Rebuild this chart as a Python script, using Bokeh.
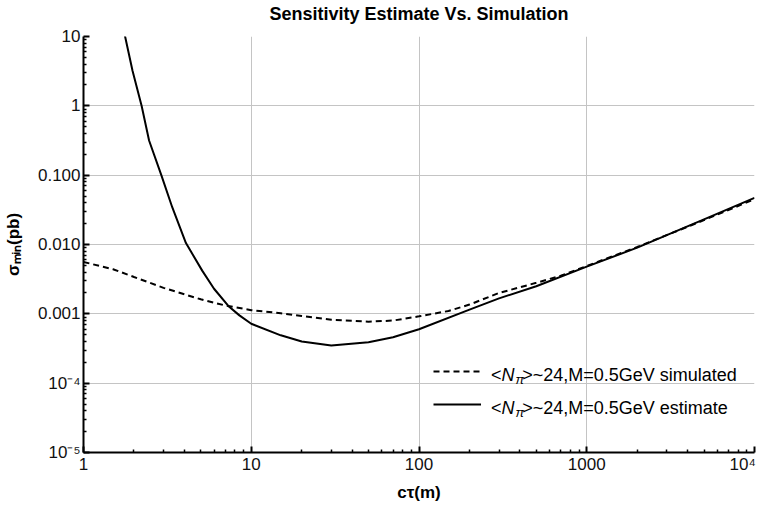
from bokeh.plotting import figure
from bokeh.models import (FixedTicker, CustomJSTickFormatter, Label, Legend,
                          LegendItem, Range1d, Title)
from bokeh.embed import file_html
from bokeh.resources import INLINE

# ---------------- data ----------------
SIM_X = [1, 1.5, 2, 3, 5, 7, 10, 15, 20, 30, 50, 70, 100, 150, 200, 300,
         500, 700, 1000, 2000, 5000, 10000]
SIM_Y = [5.6e-3, 4.4e-3, 3.4e-3, 2.37e-3, 1.62e-3, 1.32e-3, 1.13e-3, 1.02e-3,
         9.3e-4, 8.2e-4, 7.7e-4, 8.0e-4, 9.2e-4, 1.1e-3, 1.36e-3, 2.0e-3,
         2.8e-3, 3.55e-3, 4.9e-3, 9.2e-3, 2.25e-2, 4.5e-2]

EST_X = [1.72, 1.77, 1.96, 2.22, 2.46, 2.91, 3.38, 4.08, 5.1, 6, 7.3, 8.5,
         10, 15, 20, 30, 50, 70, 100, 200, 300, 500, 1000, 2000, 5000, 10000]
EST_Y = [12.5, 10, 3.2, 1.0, 0.316, 0.1, 0.0345, 0.0105, 4.2e-3, 2.3e-3,
         1.3e-3, 9.5e-4, 7.2e-4, 4.9e-4, 4.0e-4, 3.5e-4, 3.9e-4, 4.6e-4,
         6.0e-4, 1.15e-3, 1.67e-3, 2.5e-3, 4.8e-3, 9.0e-3, 2.3e-2, 4.7e-2]

X_TICKS = [1, 10, 100, 1000, 10000]
# the last label is padded with a no-break space so it stays inside the page
X_TICK_LABELS = ["1", "10", "100", "1000", "10\u2074\u00a0"]
Y_TICKS = [1e-5, 1e-4, 1e-3, 1e-2, 1e-1, 1, 10]
Y_TICK_LABELS = ["10\u207b\u2075", "10\u207b\u2074", "0.001", "0.010",
                 "0.100", "1", "10"]

TITLE = "Sensitivity Estimate Vs. Simulation"
X_LABEL = "c\u03c4(m)"
Y_LABEL = "\u03c3\u2098\u1d62\u2099(pb)"
LEG_REST = [">~24,M=0.5GeV simulated", ">~24,M=0.5GeV estimate"]

FONT = "Liberation Sans"

# ---------------- figure ----------------
p = figure(width=760, height=504, x_axis_type="log", y_axis_type="log",
           x_range=Range1d(1, 1e4), y_range=Range1d(1e-5, 10),
           output_backend="svg", toolbar_location=None,
           min_border_left=81, min_border_right=6, min_border_top=36,
           min_border_bottom=52)
p.outline_line_color = None
p.background_fill_color = "white"
p.border_fill_color = "white"
p.title.visible = False

# spacer between the frame and the title, then the title itself
p.add_layout(Title(text="\u00a0", text_font_size="8px", standoff=0,
                   text_font=FONT), "above")
p.add_layout(Title(text=TITLE, align="center", vertical_align="top",
                   text_font=FONT, text_font_size="18px",
                   text_font_style="bold", text_color="black", standoff=0),
             "above")

x_minor = [m * 10 ** e for e in range(0, 4) for m in range(2, 10)]
y_minor = [m * 10.0 ** e for e in range(-5, 1) for m in range(2, 10)]
p.xaxis.ticker = FixedTicker(ticks=X_TICKS, minor_ticks=x_minor)
p.yaxis.ticker = FixedTicker(ticks=Y_TICKS, minor_ticks=y_minor)
p.xaxis.formatter = CustomJSTickFormatter(
    args=dict(labels=X_TICK_LABELS),
    code="const i = Math.round(Math.log10(tick)); return labels[i];")
p.yaxis.formatter = CustomJSTickFormatter(
    args=dict(labels=Y_TICK_LABELS),
    code="const i = Math.round(Math.log10(tick)) + 5; return labels[i];")

for ax in (p.xaxis, p.yaxis):
    ax.axis_line_width = 2
    ax.axis_line_color = "black"
    ax.major_tick_in = 6
    ax.major_tick_out = 0
    ax.minor_tick_in = 3
    ax.minor_tick_out = 0
    ax.major_tick_line_width = 2
    ax.minor_tick_line_width = 1.5
    ax.major_tick_line_color = "black"
    ax.minor_tick_line_color = "black"
    ax.major_label_text_font = FONT
    ax.major_label_text_font_size = "17px"
    ax.major_label_text_color = "#111111"
    ax.axis_label_text_font = FONT
    ax.axis_label_text_font_size = "17px"
    ax.axis_label_text_font_style = "bold"
    ax.axis_label_text_color = "black"
p.xaxis.major_label_standoff = 2
p.yaxis.major_label_standoff = 3
p.xaxis.axis_label = X_LABEL
p.yaxis.axis_label = Y_LABEL
p.xaxis.axis_label_standoff = 6
p.yaxis.axis_label_standoff = 12

p.xgrid.ticker = FixedTicker(ticks=[10, 100, 1000, 10000])
p.ygrid.ticker = FixedTicker(ticks=[1e-4, 1e-3, 1e-2, 0.1, 1])
p.grid.grid_line_color = "#c4c4c4"
p.grid.grid_line_width = 1

r_sim = p.line(SIM_X, SIM_Y, line_color="black", line_width=2,
               line_dash="6 4")
r_est = p.line(EST_X, EST_Y, line_color="black", line_width=2)

legend = Legend(items=[LegendItem(label=" ", renderers=[r_sim]),
                       LegendItem(label=" ", renderers=[r_est])],
                location=(350, 40), orientation="vertical",
                glyph_width=48, glyph_height=16, label_height=16,
                label_width=1, label_standoff=0, spacing=17, padding=0,
                margin=0, border_line_alpha=0, background_fill_alpha=0,
                label_text_font_size="8px")
p.add_layout(legend)


def lab(text, yo, xo, size, style="normal"):
    p.add_layout(Label(x=1e4, y=1e-5, x_offset=xo, y_offset=yo, text=text,
                       text_font=FONT, text_font_size=size,
                       text_font_style=style, text_align="left",
                       text_baseline="alphabetic", text_color="black"))


# legend texts: "<N_pi>~24,M=0.5GeV ..."
for row, yo in enumerate([77.5, 44.5]):
    lab("<", yo, -263.5, "18px")
    lab("N", yo, -253, "18px", "italic")
    lab("\u03c0", yo - 4, -239, "13px", "italic")
    lab(LEG_REST[row], yo, -232.3, "18px")

open("out.html", "w").write(file_html(p, INLINE))
